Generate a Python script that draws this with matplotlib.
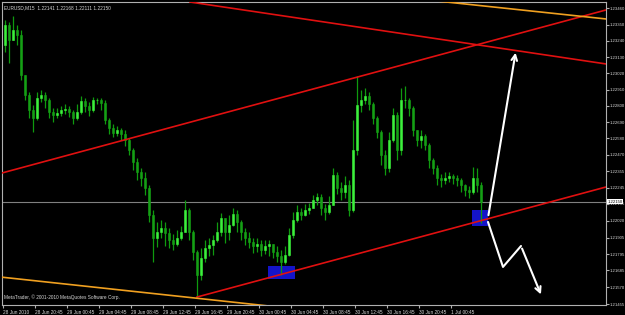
import matplotlib
matplotlib.use("Agg")
import matplotlib.pyplot as plt
import matplotlib.transforms as mtransforms
from matplotlib.patches import Rectangle
import numpy as np

plt.rcParams["font.family"] = ["Liberation Sans", "DejaVu Sans"]

symbol = "EURUSD,M15"
last_ohlc = ["1.22141", "1.22168", "1.22111", "1.22150"]
current_price = 1.22150
copyright_text = "MetaTrader, \u00a9 2001-2010 MetaQuotes Software Corp."

# candles (30 min columns)
first_open = 1.23213
closes = [1.23348, 1.23247, 1.23315, 1.23281, 1.23010, 1.22874, 1.22772, 1.22718, 1.22854, 1.22874,
          1.22840, 1.22759, 1.22738, 1.22752, 1.22772, 1.22779, 1.22759, 1.22718, 1.22759, 1.22833,
          1.22799, 1.22772, 1.22840, 1.22840, 1.22820, 1.22704, 1.22650, 1.22616, 1.22637, 1.22609,
          1.22569, 1.22501, 1.22420, 1.22352, 1.22311, 1.22243, 1.22060, 1.21904, 1.21945, 1.21972,
          1.21938, 1.21891, 1.21864, 1.21904, 1.21945, 1.22094, 1.21945, 1.21809, 1.21653, 1.21769,
          1.21836, 1.21857, 1.21891, 1.21945, 1.22040, 1.21945, 1.21993, 1.22067, 1.22013, 1.21945,
          1.21904, 1.21877, 1.21850, 1.21864, 1.21823, 1.21850, 1.21864, 1.21809, 1.21782, 1.21741,
          1.21789, 1.21925, 1.22026, 1.22081, 1.22060, 1.22094, 1.22108, 1.22162, 1.22182, 1.22108,
          1.22081, 1.22128, 1.22332, 1.22243, 1.22216, 1.22264, 1.22094, 1.22501, 1.22806, 1.22840,
          1.22867, 1.22813, 1.22718, 1.22623, 1.22467, 1.22379, 1.22569, 1.22738, 1.22501, 1.22840,
          1.22840, 1.22786, 1.22637, 1.22569, 1.22596, 1.22535, 1.22433, 1.22379, 1.22311, 1.22298,
          1.22311, 1.22325, 1.22311, 1.22298, 1.22264, 1.22230, 1.22216, 1.22311, 1.22264, 1.22150]
highs = [1.23382, 1.23369, 1.23410, 1.23348, 1.23315, 1.23010, 1.22894, 1.22806, 1.22894, 1.22908,
         1.22894, 1.22854, 1.22786, 1.22786, 1.22799, 1.22813, 1.22799, 1.22772, 1.22813, 1.22867,
         1.22854, 1.22826, 1.22860, 1.22854, 1.22854, 1.22840, 1.22718, 1.22677, 1.22664, 1.22650,
         1.22637, 1.22582, 1.22515, 1.22447, 1.22379, 1.22352, 1.22264, 1.22094, 1.22013, 1.22026,
         1.22013, 1.21972, 1.21931, 1.21959, 1.21986, 1.22162, 1.22108, 1.21959, 1.21823, 1.21836,
         1.21891, 1.21904, 1.21925, 1.22013, 1.22074, 1.22040, 1.22060, 1.22108, 1.22094, 1.22026,
         1.21972, 1.21945, 1.21904, 1.21904, 1.21891, 1.21891, 1.21891, 1.21864, 1.21850, 1.21823,
         1.21850, 1.21972, 1.22081, 1.22128, 1.22108, 1.22135, 1.22142, 1.22196, 1.22209, 1.22203,
         1.22135, 1.22189, 1.22379, 1.22352, 1.22284, 1.22325, 1.22298, 1.22704, 1.23003, 1.22908,
         1.22921, 1.22894, 1.22826, 1.22731, 1.22637, 1.22501, 1.22623, 1.22786, 1.22759, 1.22921,
         1.22935, 1.22854, 1.22799, 1.22637, 1.22637, 1.22609, 1.22548, 1.22447, 1.22399, 1.22338,
         1.22352, 1.22352, 1.22338, 1.22332, 1.22311, 1.22270, 1.22257, 1.22386, 1.22379, 1.22284]
lows = [1.23165, 1.23091, 1.23247, 1.23213, 1.22976, 1.22840, 1.22718, 1.22623, 1.22704, 1.22826,
        1.22786, 1.22718, 1.22691, 1.22718, 1.22731, 1.22745, 1.22725, 1.22677, 1.22704, 1.22745,
        1.22759, 1.22731, 1.22759, 1.22813, 1.22772, 1.22677, 1.22609, 1.22589, 1.22596, 1.22569,
        1.22528, 1.22467, 1.22365, 1.22298, 1.22257, 1.22196, 1.22013, 1.21741, 1.21843, 1.21904,
        1.21850, 1.21836, 1.21823, 1.21850, 1.21891, 1.21945, 1.21891, 1.21755, 1.21504, 1.21620,
        1.21741, 1.21782, 1.21789, 1.21877, 1.21918, 1.21870, 1.21891, 1.21986, 1.21945, 1.21891,
        1.21857, 1.21836, 1.21803, 1.21809, 1.21782, 1.21796, 1.21782, 1.21769, 1.21741, 1.21653,
        1.21728, 1.21782, 1.21904, 1.22013, 1.22026, 1.22053, 1.22067, 1.22108, 1.22128, 1.22060,
        1.22026, 1.22067, 1.22128, 1.22203, 1.22162, 1.22176, 1.22053, 1.22081, 1.22467, 1.22759,
        1.22813, 1.22772, 1.22677, 1.22582, 1.22399, 1.22332, 1.22352, 1.22555, 1.22433, 1.22467,
        1.22786, 1.22731, 1.22596, 1.22528, 1.22515, 1.22501, 1.22379, 1.22338, 1.22264, 1.22250,
        1.22270, 1.22284, 1.22270, 1.22257, 1.22216, 1.22189, 1.22176, 1.22203, 1.22216, 1.22006]

time_labels = ["28 Jun 2010", "28 Jun 20:45", "29 Jun 00:45", "29 Jun 04:45", "29 Jun 08:45",
               "29 Jun 12:45", "29 Jun 16:45", "29 Jun 20:45", "30 Jun 00:45", "30 Jun 04:45",
               "30 Jun 08:45", "30 Jun 12:45", "30 Jun 16:45", "30 Jun 20:45", "1 Jul 00:45"]
price_labels = ["1.23460", "1.23350", "1.23240", "1.23130", "1.23020", "1.22910", "1.22800",
                "1.22690", "1.22580", "1.22470", "1.22355", "1.22245", "1.22135", "1.22020",
                "1.21905", "1.21795", "1.21685", "1.21570", "1.21455"]

# objects drawn on the chart: (bar index, price)
channel_top = [(-0.75, 1.22345), (150.25, 1.23450)]
channel_bottom = [(48, 1.21504), (150.25, 1.22250)]
falling_line = [(46.25, 1.23504), (150.25, 1.23084)]
orange_top = [(105.5, 1.23518), (150.25, 1.23389)]
orange_bottom = [(-1.25, 1.21640), (66, 1.21443)]
boxes = [((65.75, 1.21626), (72.5, 1.21715)), ((116.75, 1.21986), (120.75, 1.22094))]
arrow_up = [(120.75, 1.22040), (127.75, 1.23179)]
arrow_down = [(120.75, 1.22013), (124.5, 1.21708), (129, 1.21850), (134.25, 1.21504)]

TXT = "#d8d8d8"
FS = 3.4

fig = plt.figure(figsize=(6.25, 3.15), dpi=100, facecolor="black")
ax = fig.add_axes([2 / 625, 10 / 315, 604 / 625, 303 / 315])
ax.set_facecolor("black")
for s in ax.spines.values():
    s.set_color("#b0b0b0")
    s.set_linewidth(0.8)

n = len(closes)
idx = np.arange(n)
opens = np.array([first_open] + closes[:-1])
closes_a = np.array(closes)
up = closes_a >= opens

# blue boxes sit behind the candles
for (x0, y0), (x1, y1) in boxes:
    ax.add_patch(Rectangle((x0, y0), x1 - x0, y1 - y0, facecolor="#1414c8", edgecolor="none", zorder=1))

ax.axhline(current_price, color="#808080", lw=0.8, zorder=1.5)

ax.vlines(idx, lows, highs, color="#0f9a0f", lw=0.9, zorder=2)
body_col = np.where(up, "#3cf03c", "#15a015")
ax.bar(idx, closes_a - opens, bottom=opens, width=0.6, color=body_col,
       edgecolor=body_col, linewidth=0.4, zorder=3)

for pts, col in [(channel_top, "#e01010"), (channel_bottom, "#e01010"),
                 (falling_line, "#e01010"), (orange_top, "#f0a020"), (orange_bottom, "#f0a020")]:
    xs, ys = zip(*pts)
    ax.plot(xs, ys, color=col, lw=1.2, zorder=4)

# white forecast arrows
ax.annotate("", xy=arrow_up[1], xytext=arrow_up[0],
            arrowprops=dict(arrowstyle="->", color="white", lw=1.5, mutation_scale=10), zorder=5)
xs, ys = zip(*arrow_down[:-1])
ax.plot(xs, ys, color="white", lw=1.5, zorder=5, solid_capstyle="round")
ax.annotate("", xy=arrow_down[-1], xytext=arrow_down[-2],
            arrowprops=dict(arrowstyle="->", color="white", lw=1.5, mutation_scale=10), zorder=5)

ax.set_xlim(-0.75, 150.25)
ax.set_ylim(1.21450, 1.23504)

ax.set_xticks([-0.5 + 8 * k for k in range(len(time_labels))])
ax.set_xticklabels(time_labels)
for lab in ax.get_xticklabels():
    lab.set_horizontalalignment("left")
ax.tick_params(axis="x", length=2.5, pad=0.8, labelsize=FS, colors="#b0b0b0", labelcolor=TXT)

ax.yaxis.tick_right()
ax.set_yticks([float(p) for p in price_labels])
ax.set_yticklabels(price_labels)
ax.tick_params(axis="y", length=2, pad=0.6, labelsize=3.1, colors="#b0b0b0", labelcolor=TXT)

trans = mtransforms.blended_transform_factory(ax.transAxes, ax.transData)
ax.text(1.003, current_price, f"{current_price:.5f}", transform=trans, ha="left", va="center",
        fontsize=3.1, color="black", clip_on=False, zorder=6,
        bbox=dict(facecolor="white", edgecolor="none", pad=0.4))

ax.text(0.004, 0.99, f"{symbol}  " + " ".join(last_ohlc), transform=ax.transAxes,
        ha="left", va="top", fontsize=FS, color=TXT)
ax.text(0.003, 0.025, copyright_text, transform=ax.transAxes, ha="left", va="center",
        fontsize=FS, color=TXT)

fig.savefig("out.png", dpi=100, facecolor="black")
